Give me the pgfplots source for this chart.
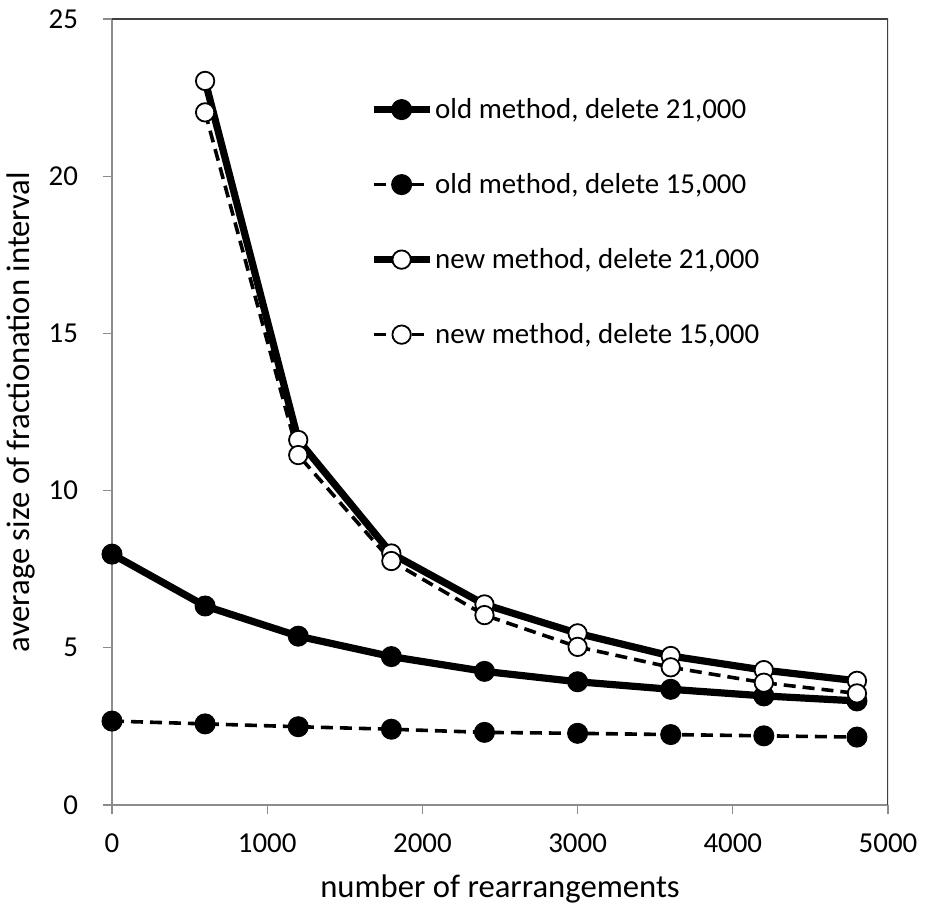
\documentclass[border=0pt]{standalone}
\usepackage{fontspec}
\setmainfont{Carlito}
\usepackage{pgfplots}
\pgfplotsset{compat=1.18}
\begin{document}
\begin{tikzpicture}
\begin{axis}[
  scale only axis,
  width=388bp, height=393bp,
  xmin=0, xmax=5000, ymin=0, ymax=25,
  xtick={0,1000,...,5000}, ytick={0,5,...,25},
  font=\fontsize{14.5}{17}\selectfont,
  /pgf/number format/assume math mode=true,
  /pgf/number format/1000 sep={},
  axis x line*=bottom, axis y line*=left,
  axis line style={draw=black!45, line width=0.6bp},
  tick align=outside, major tick length=4.5bp,
  tick style={draw=black!45, line width=0.6bp},
  xticklabel style={yshift=-6.5bp},
  yticklabel style={xshift=-9bp},
  xlabel={number of rearrangements},
  ylabel={average size of fractionation interval},
  label style={font=\fontsize{16.4}{20}\selectfont},
  xlabel style={yshift=-4bp},
  legend cell align=left,
  legend style={draw=none, fill=none, at={(0.332,0.905)}, anchor=north west,
    row sep=22bp, inner sep=0pt, font=\fontsize{14.5}{17}\selectfont, nodes={inner xsep=1bp}},
  legend image code/.code={%
    \draw[mark repeat=2,mark phase=2] plot coordinates {(0bp,0bp)(14bp,0bp)(28bp,0bp)};},
  old/.style={black, line width=3.6bp, mark=*, mark size=5bp,
    mark options={solid, fill=black, line width=0.5bp}},
  oldd/.style={black, line width=1.8bp, dash pattern=on 6bp off 3.5bp, mark=*, mark size=5bp,
    mark options={solid, fill=black, line width=0.5bp}},
  new/.style={black, line width=3.6bp, mark=*, mark size=4.6bp,
    mark options={solid, fill=white, draw=black, line width=0.9bp}},
  newd/.style={black, line width=1.8bp, dash pattern=on 6bp off 3.5bp, mark=*, mark size=4.6bp,
    mark options={solid, fill=white, draw=black, line width=0.9bp}},
]
\draw[black!75, line width=0.7bp] (rel axis cs:0,1) -- (rel axis cs:1,1) -- (rel axis cs:1,0);
\coordinate (tl) at (rel axis cs:0,1);
\coordinate (br) at (rel axis cs:1,0);

\addplot[old] coordinates {
(0,7.98)(600,6.33)(1200,5.37)(1800,4.72)(2400,4.25)(3000,3.92)(3600,3.68)(4200,3.47)(4800,3.31)
};
\addlegendentry{old method, delete 21,000}

\addplot[oldd] coordinates {
(0,2.67)(600,2.58)(1200,2.49)(1800,2.41)(2400,2.31)(3000,2.28)(3600,2.24)(4200,2.20)(4800,2.16)
};
\addlegendentry{old method, delete 15,000}

\addplot[new] coordinates {
(600,23.03)(1200,11.61)(1800,8.00)(2400,6.38)(3000,5.46)(3600,4.74)(4200,4.29)(4800,3.95)
};
\addlegendentry{new method, delete 21,000}

\addplot[newd] coordinates {
(600,22.03)(1200,11.13)(1800,7.76)(2400,6.04)(3000,5.03)(3600,4.38)(4200,3.89)(4800,3.55)
};
\addlegendentry{new method, delete 15,000}
\end{axis}
% keep the margins of the reference
\path ([xshift=-56bp,yshift=9.5bp]tl) rectangle ([xshift=18.5bp,yshift=-53bp]br);
\end{tikzpicture}
\end{document}
